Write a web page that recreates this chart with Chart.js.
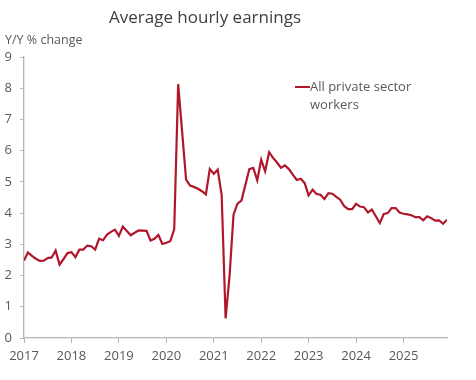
<!DOCTYPE html>
<html>
<head>
<meta charset="utf-8">
<script src="https://cdn.jsdelivr.net/npm/chart.js@4/dist/chart.umd.min.js"></script>
<style>
  html, body { margin: 0; padding: 0; background: #fff; }
  #wrap { position: relative; width: 476px; height: 380px; overflow: hidden; }
  canvas { position: absolute; left: 0; top: 0; }
  .txt { position: absolute; font-family: "Open Sans", "Noto Sans", sans-serif; color: #595959; white-space: nowrap; }
  #title { left: 0; width: 410px; text-align: center; top: 5px; font-size: 17px; color: #404040; }
  #ylab { left: 5px; top: 31px; font-size: 12.5px; }
  #legend { left: 295px; top: 77px; font-size: 13px; line-height: 18px; }
  #legend .sw { position: absolute; left: 0; top: 9px; width: 15px; height: 2px; }
  #legend .lt { margin-left: 15px; }
</style>
</head>
<body>
<div id="wrap">
  <canvas id="c" width="476" height="380"></canvas>
  <div class="txt" id="title">Average hourly earnings</div>
  <div class="txt" id="ylab">Y/Y % change</div>
  <div class="txt" id="legend"><div class="sw"></div><div class="lt" id="legtext"></div></div>
</div>
<script>
// Year-over-year % change, monthly, Jan..Dec of each year
const seriesName = "All private sector workers";
const tickYears = [2017, 2018, 2019, 2020, 2021, 2022, 2023, 2024, 2025];
const yTicks = [0, 1, 2, 3, 4, 5, 6, 7, 8, 9];
const ahe2017 = [2.48, 2.74, 2.63, 2.54, 2.47, 2.48, 2.56, 2.58, 2.80, 2.35, 2.53, 2.72];
const ahe2018 = [2.75, 2.59, 2.83, 2.83, 2.96, 2.94, 2.83, 3.18, 3.13, 3.31, 3.40, 3.47];
const ahe2019 = [3.27, 3.57, 3.43, 3.29, 3.37, 3.45, 3.44, 3.43, 3.12, 3.18, 3.30, 3.01];
const ahe2020 = [3.05, 3.10, 3.48, 8.13, 6.60, 5.07, 4.88, 4.84, 4.78, 4.70, 4.60, 5.41];
const ahe2021 = [5.26, 5.39, 4.58, 0.63, 2.00, 3.95, 4.30, 4.40, 4.90, 5.41, 5.45, 5.05];
const ahe2022 = [5.71, 5.34, 5.95, 5.77, 5.62, 5.45, 5.53, 5.41, 5.23, 5.06, 5.10, 4.96];
const ahe2023 = [4.57, 4.75, 4.61, 4.59, 4.45, 4.64, 4.62, 4.52, 4.43, 4.22, 4.13, 4.13];
const ahe2024 = [4.30, 4.21, 4.19, 4.02, 4.11, 3.90, 3.68, 3.97, 4.00, 4.16, 4.16, 4.02];
const ahe2025 = [3.98, 3.96, 3.93, 3.87, 3.87, 3.77, 3.90, 3.84, 3.76, 3.77, 3.66, 3.79];

const yearly = [ahe2017, ahe2018, ahe2019, ahe2020, ahe2021, ahe2022, ahe2023, ahe2024, ahe2025];
const points = [];
yearly.forEach((arr, yi) => {
  arr.forEach((v, mi) => points.push({ x: tickYears[yi] + mi / 12, y: v }));
});

const lineColor = '#B0172B';
const axisColor = '#B4B4B4';
const tickColor = '#595959';
const fontFam = '"Open Sans", "Noto Sans", sans-serif';

document.getElementById('legtext').innerHTML = 'All private sector<br>workers';
document.querySelector('#legend .sw').style.background = lineColor;

new Chart(document.getElementById('c'), {
  type: 'line',
  data: {
    datasets: [{
      label: seriesName,
      data: points,
      borderColor: lineColor,
      borderWidth: 2.2,
      pointRadius: 0,
      tension: 0,
      fill: false
    }]
  },
  options: {
    responsive: false,
    animation: false,
    devicePixelRatio: 1,
    layout: { padding: { left: 0, right: 29, top: 57, bottom: 0 } },
    plugins: { legend: { display: false }, title: { display: false }, tooltip: { enabled: false } },
    scales: {
      x: {
        type: 'linear',
        min: tickYears[0],
        max: tickYears[tickYears.length - 1] + 11 / 12,
        afterBuildTicks: (s) => { s.ticks = tickYears.map(v => ({ value: v })); },
        afterFit: (s) => { s.height = 42; },
        ticks: { color: tickColor, font: { family: fontFam, size: 13 }, padding: 5, maxRotation: 0,
                 callback: (v) => String(v) },
        grid: { drawOnChartArea: false, drawTicks: true, tickLength: 5, color: axisColor },
        border: { color: axisColor, width: 1.3 }
      },
      y: {
        min: 0, max: 9,
        afterBuildTicks: (s) => { s.ticks = yTicks.map(v => ({ value: v })); },
        afterFit: (s) => { s.width = 24; },
        ticks: { color: tickColor, font: { family: fontFam, size: 13 }, padding: 8 },
        grid: { drawOnChartArea: false, drawTicks: true, tickLength: 4, color: axisColor },
        border: { color: axisColor, width: 1.3 }
      }
    }
  }
});
</script>
</body>
</html>
